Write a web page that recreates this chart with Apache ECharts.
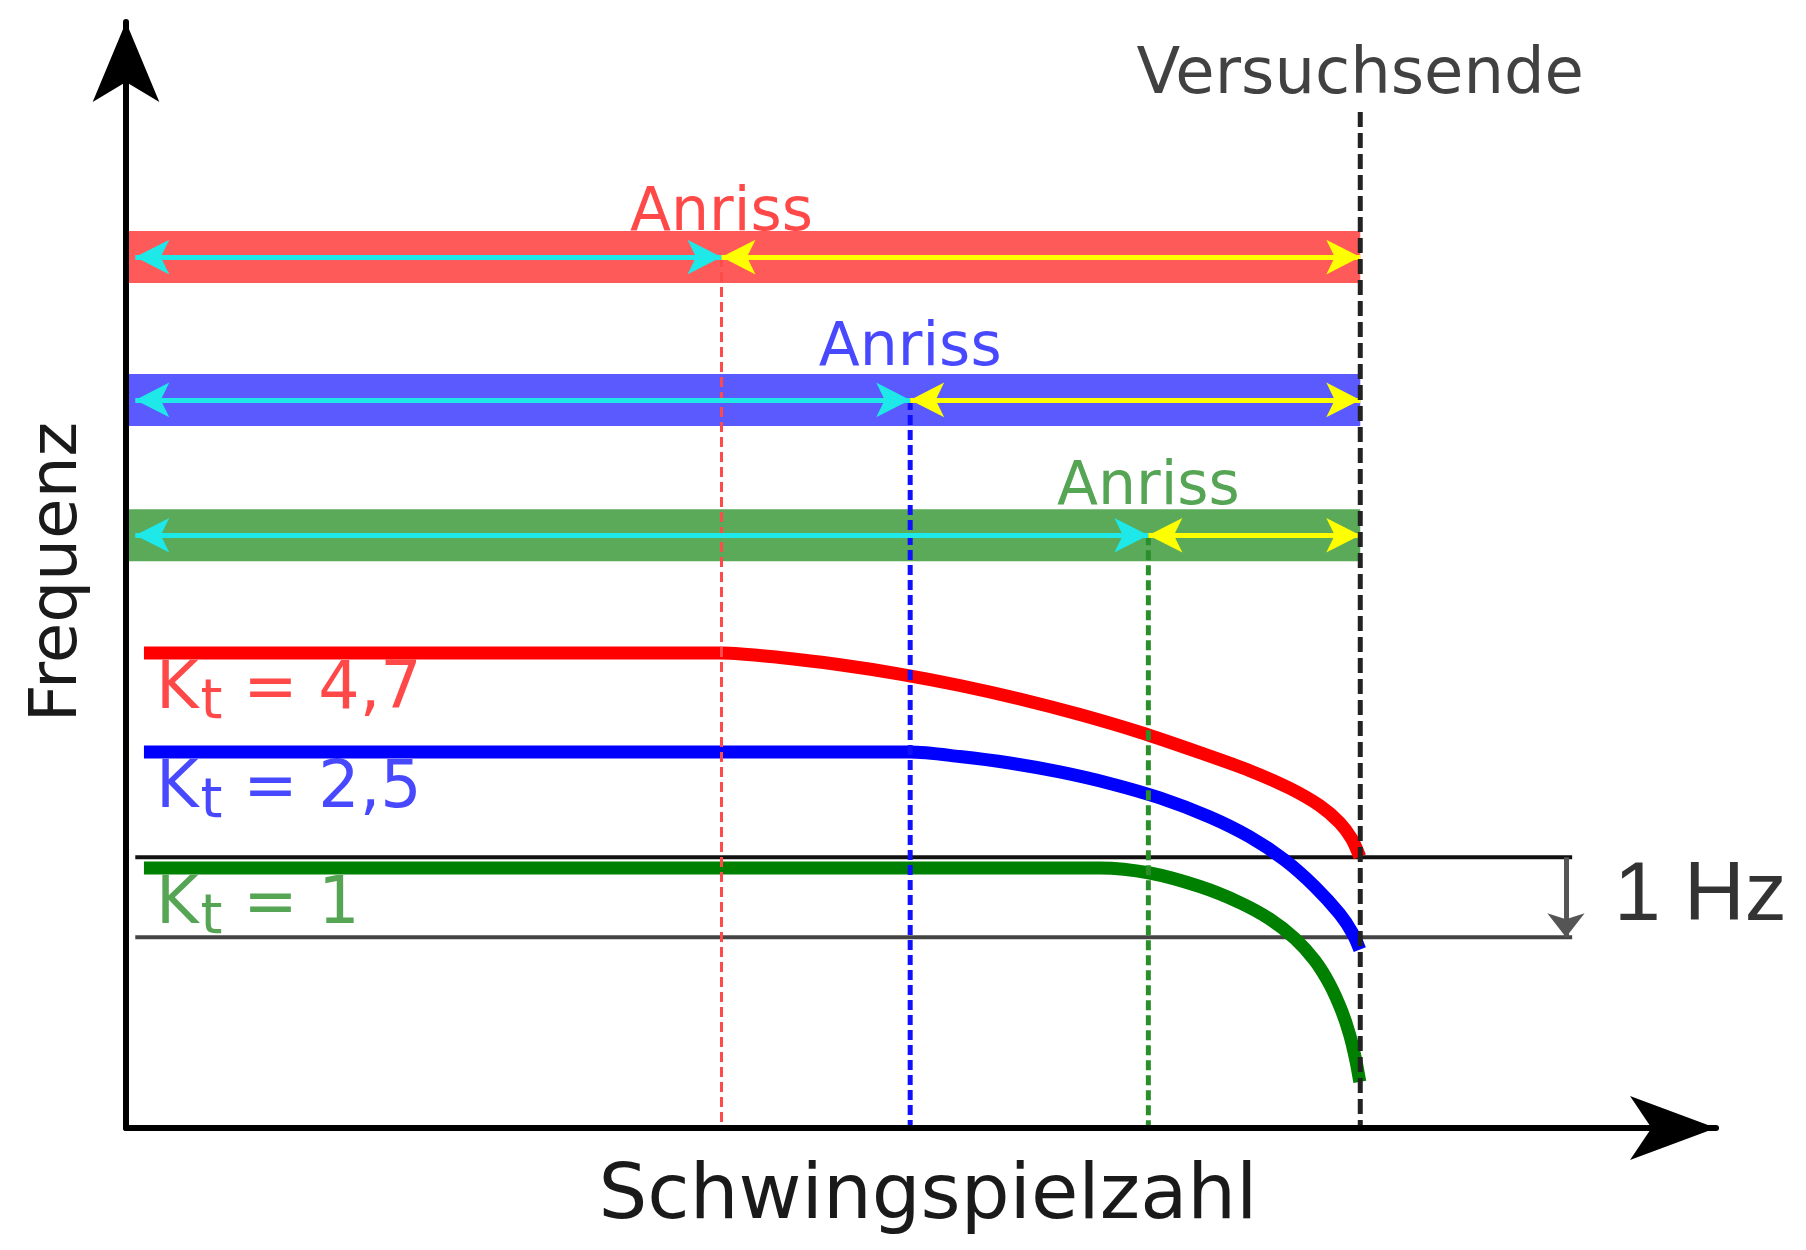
<!DOCTYPE html>
<html>
<head>
<meta charset="utf-8">
<title>Frequenzverlauf bis Versuchsende</title>
<script src="https://cdn.jsdelivr.net/npm/echarts@6/dist/echarts.min.js"></script>
<style>
  html, body { margin: 0; padding: 0; background: #fff; }
  #chart { width: 1806px; height: 1250px; }
</style>
</head>
<body>
<div id="chart"></div>
<script>
// ---------------- Daten (schematisch, Achsen ohne Skala)
const ktLabels = ['4,7', '2,5', '1'];
// Schwingspielzahl beim Anriss und beim Versuchsende
const crackCycles = [38.5, 50.7, 66.1];
const endCycles = 79.8;
const endLineTop = 95.3;
// Hoehe der Zeitbalken
const barLevels = [81.7, 68.3, 55.6];
// Frequenzverlauf je Kerbfaktor
const cyclesKt47 = [1.16, 30.64, 38.53, 42.28, 46.15, 50.03, 53.91, 57.79, 61.67, 65.55, 69.43, 72.66, 75.24, 77.18, 78.47, 79.25, 79.77];
const freqKt47 = [44.56, 44.56, 44.56, 44.13, 43.45, 42.58, 41.51, 40.24, 38.78, 37.12, 35.21, 33.52, 31.87, 30.24, 28.64, 27.12, 25.43];
const cyclesKt25 = [1.16, 43.57, 50.68, 53.91, 57.14, 60.37, 63.61, 66.84, 70.07, 72.66, 74.92, 76.86, 78.47, 79.31, 79.77];
const freqKt25 = [35.27, 35.27, 35.27, 34.85, 34.24, 33.40, 32.32, 30.96, 29.17, 27.30, 25.13, 22.65, 20.08, 18.25, 16.74];
const cyclesKt1 = [1.16, 56.50, 62.96, 66.19, 69.43, 72.01, 73.95, 75.57, 76.86, 77.83, 78.60, 79.12, 79.51, 79.77];
const freqKt1 = [24.39, 24.39, 24.39, 23.92, 22.65, 21.15, 19.61, 17.78, 15.71, 13.46, 10.98, 8.73, 6.37, 4.32];
// 1-Hz-Abstand
const hzLevels = [25.4, 17.9];
const hzStart = 0.6;
const hzEnd = 93.5;
const hzArrowCycles = 93.1;
// Achsenbereich
const xMax = 102.8;
const yMax = 103.75;
// ----------------

const font = "'DejaVu Sans', sans-serif";
const lineColors = ['#ff0000', '#0000ff', '#008000'];
const barColors = ['#ff5a5a', '#5a5aff', '#5aaa5a'];
const textColors = ['#ff1a1a', '#1a1aff', '#2a8f2a'];
const dashColors = ['#ff4a4a', '#1010ff', '#2a8f2a'];
const dashWidths = [3, 5, 5];
const anrissOffsets = [-43, -50, -47];
const curves = [
    [cyclesKt47, freqKt47],
    [cyclesKt25, freqKt25],
    [cyclesKt1, freqKt1]
];

const zip = (xs, ys) => xs.map((x, i) => [x, ys[i]]);

const series = [];

// Zeitbalken mit Pfeilen (vor / nach Anriss)
barLevels.forEach((lvl, i) => {
    series.push({
        type: 'line',
        z: 1,
        symbol: 'none',
        silent: true,
        data: [[0, lvl], [endCycles, lvl]],
        lineStyle: { width: 52, color: barColors[i], cap: 'butt' },
        markLine: {
            silent: true,
            symbol: ['arrow', 'arrow'],
            symbolSize: [26, 34],
            label: { show: false },
            lineStyle: { width: 5, type: 'solid' },
            data: [
                [{ coord: [hzStart, lvl], lineStyle: { color: '#1ee8e8' }, itemStyle: { color: '#1ee8e8' } },
                 { coord: [crackCycles[i], lvl] }],
                [{ coord: [crackCycles[i], lvl], lineStyle: { color: '#ffff00' }, itemStyle: { color: '#ffff00' } },
                 { coord: [endCycles, lvl] }]
            ]
        }
    });
});

// 1-Hz-Linien
hzLevels.forEach((lvl, i) => {
    series.push({
        type: 'line',
        z: 2,
        symbol: 'none',
        silent: true,
        data: [[hzStart, lvl], [hzEnd, lvl]],
        lineStyle: { width: 4, color: i === 0 ? '#111' : '#444' }
    });
});
series.push({
    type: 'line',
    z: 2,
    symbol: 'none',
    silent: true,
    data: [],
    markLine: {
        silent: true,
        symbol: ['none', 'arrow'],
        symbolSize: [28, 24],
        label: { show: false },
        lineStyle: { width: 5, type: 'solid', color: '#555' },
        itemStyle: { color: '#111' },
        data: [[{ coord: [hzArrowCycles, hzLevels[0]] }, { coord: [hzArrowCycles, hzLevels[1]] }]]
    }
});

// Frequenzkurven
curves.forEach((c, i) => {
    series.push({
        type: 'line',
        z: 3,
        symbol: 'none',
        silent: true,
        smooth: 0.3,
        data: zip(c[0], c[1]),
        lineStyle: { width: 13, color: lineColors[i], join: 'round' }
    });
});

// Anriss-Linien
crackCycles.forEach((x, i) => {
    series.push({
        type: 'line',
        z: 4,
        symbol: 'none',
        silent: true,
        data: [[x, barLevels[i]], [x, 0]],
        lineStyle: { width: dashWidths[i], color: dashColors[i], type: [10, 5] }
    });
});
// Versuchsende
series.push({
    type: 'line',
    z: 5,
    symbol: 'none',
    silent: true,
    data: [[endCycles, endLineTop], [endCycles, 0]],
    lineStyle: { width: 5, color: '#222', type: [15, 6] }
});

// Texte
const textPoint = (pos, label) => ({
    type: 'scatter',
    z: 6,
    silent: true,
    symbolSize: 1,
    itemStyle: { color: 'rgba(0,0,0,0)' },
    data: [pos],
    label: Object.assign({ show: true, position: 'inside', fontFamily: font }, label)
});

crackCycles.forEach((x, i) => {
    series.push(textPoint([x, barLevels[i]], {
        formatter: 'Anriss', fontSize: 60, color: textColors[i], offset: [0, anrissOffsets[i]]
    }));
});

curves.forEach((c, i) => {
    series.push(textPoint([c[0][0], c[1][0]], {
        formatter: '{k|K}{t|t}{v| = ' + ktLabels[i] + '}',
        align: 'left',
        offset: [12, 38],
        rich: {
            k: { fontSize: 65, color: textColors[i], fontFamily: font },
            t: { fontSize: 56, color: textColors[i], fontFamily: font, padding: [24, 0, 0, 2] },
            v: { fontSize: 65, color: textColors[i], fontFamily: font }
        }
    }));
});

series.push(textPoint([endCycles, endLineTop], {
    formatter: 'Versuchsende', fontSize: 64, color: '#111', offset: [0, -36]
}));
series.push(textPoint([hzArrowCycles, (hzLevels[0] + hzLevels[1]) / 2], {
    formatter: '1 Hz', fontSize: 84, color: '#000', align: 'left',
    fontFamily: "'Liberation Sans', Arial, sans-serif", offset: [48, 0]
}));

const chart = echarts.init(document.getElementById('chart'), null, { renderer: 'canvas' });
chart.setOption({
    animation: false,
    backgroundColor: '#fff',
    grid: { left: 126, right: 90, top: 22, bottom: 122, containLabel: false, outerBoundsMode: 'none' },
    xAxis: {
        type: 'value',
        min: 0,
        max: xMax,
        z: 10,
        axisLine: {
            show: true,
            onZero: false,
            symbol: ['none', 'arrow'],
            symbolSize: [48, 86],
            lineStyle: { color: '#000', width: 6 }
        },
        axisTick: { show: false },
        axisLabel: { show: false },
        splitLine: { show: false },
        name: 'Schwingspielzahl',
        nameLocation: 'middle',
        nameGap: 31,
        nameTextStyle: { fontFamily: font, fontSize: 77, color: '#1a1a1a', padding: [0, 0, 0, 14] }
    },
    yAxis: {
        type: 'value',
        min: 0,
        max: yMax,
        z: 10,
        axisLine: {
            show: true,
            onZero: false,
            symbol: ['none', 'arrow'],
            symbolSize: [50, 80],
            lineStyle: { color: '#000', width: 6 }
        },
        axisTick: { show: false },
        axisLabel: { show: false },
        splitLine: { show: false },
        name: 'Frequenz',
        nameLocation: 'middle',
        nameGap: 34,
        nameTextStyle: { fontFamily: font, fontSize: 66, color: '#1a1a1a', padding: [0, 0, 0, 6] }
    },
    series: series
});
</script>
</body>
</html>
